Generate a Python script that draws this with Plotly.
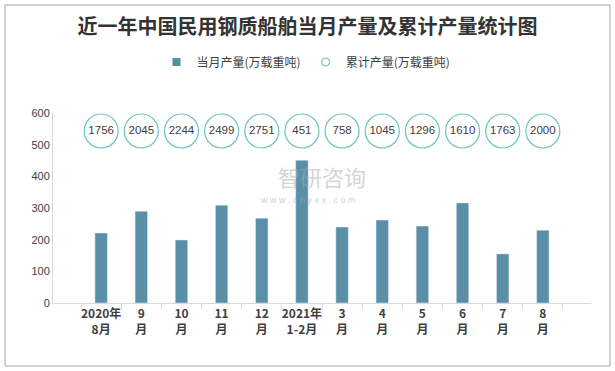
import plotly.graph_objects as go

categories = ["2020年<br>8月", "9<br>月", "10<br>月", "11<br>月", "12<br>月", "2021年<br>1-2月",
              "3<br>月", "4<br>月", "5<br>月", "6<br>月", "7<br>月", "8<br>月"]
monthly = [221, 290, 199, 309, 268, 451, 240, 262, 243, 316, 155, 230]
cumulative = [1756, 2045, 2244, 2499, 2751, 451, 758, 1045, 1296, 1610, 1763, 2000]
y_ticks = [0, 100, 200, 300, 400, 500, 600]

W, H = 615, 371
L, R, T, B = 53, 24, 113, 68
pw, ph = W - L - R, H - T - B

def px_x(p):
    return (p - L) / pw

def px_y(p):
    return (H - B - p) / ph

fig = go.Figure()
fig.add_trace(go.Bar(
    x=categories, y=monthly, name="当月产量(万载重吨)", showlegend=False,
    marker=dict(color="#5B8FA8"), width=0.31, yaxis="y",
))
fig.add_trace(go.Scatter(
    x=categories, y=[1] * len(cumulative), name="累计产量(万载重吨)", showlegend=False,
    mode="markers+text", text=[str(v) for v in cumulative],
    textposition="middle center",
    textfont=dict(size=11.5, color="#404040", family="Liberation Sans, Arial"),
    marker=dict(symbol="circle", size=34, color="white",
                line=dict(color="#6CC6BD", width=1.2)),
    yaxis="y2", cliponaxis=False,
))
# legend entries
fig.add_trace(go.Scatter(x=[None], y=[None], mode="markers", name="当月产量(万载重吨)",
                         marker=dict(symbol="square", size=8, color="#5B8FA8")))
fig.add_trace(go.Scatter(x=[None], y=[None], mode="markers", name="累计产量(万载重吨)",
                         marker=dict(symbol="circle", size=8, color="white",
                                     line=dict(color="#6CC6BD", width=1.2))))

fig.update_layout(
    width=W, height=H,
    margin=dict(l=L, r=R, t=T, b=B, pad=0),
    paper_bgcolor="white", plot_bgcolor="white",
    font=dict(family="Noto Sans CJK SC, Liberation Sans", color="#404040"),
    title=dict(text="<b>近一年中国民用钢质船舶当月产量及累计产量统计图</b>",
               x=0.5, xanchor="center", y=1 - 27 / H, yanchor="middle",
               font=dict(size=20, color="#333333", family="Noto Sans CJK SC")),
    showlegend=True,
    legend=dict(orientation="h", x=px_x(306), xanchor="center", y=px_y(62), yanchor="middle",
                font=dict(size=12, color="#404040"),
                traceorder="normal", itemwidth=30),
    bargap=0.69,
    xaxis=dict(type="category", showline=True, linecolor="#D9D9D9", linewidth=1,
               ticks="outside", tickson="boundaries", ticklen=5, tickcolor="#D9D9D9",
               tickangle=0, automargin=False,
               tickfont=dict(size=12, color="#404040", family="Noto Sans CJK SC"),
               tickvals=categories, ticktext=["<b>" + c + "</b>" for c in categories],
               showgrid=False),
    yaxis=dict(range=[0, 600], tickvals=y_ticks, showline=True, linecolor="#D9D9D9",
               linewidth=1, showgrid=False, zeroline=False, ticks="", automargin=False,
               tickfont=dict(size=11, color="#404040", family="Liberation Sans, Arial")),
    yaxis2=dict(overlaying="y", range=[0, 1 / px_y(131)], visible=False),
)

# watermark
fig.add_annotation(xref="paper", yref="paper", x=px_x(322), y=px_y(176),
                   xanchor="center", yanchor="middle",
                   text="智研咨询", showarrow=False,
                   font=dict(size=22, color="rgba(170,170,170,0.5)", family="Noto Sans CJK SC"))
fig.add_annotation(xref="paper", yref="paper", x=px_x(308), y=px_y(200),
                   xanchor="center", yanchor="middle",
                   text="w w w . c h y x x . c o m", showarrow=False,
                   font=dict(size=9, color="rgba(170,170,170,0.6)", family="Liberation Sans"))

# outer border
fig.add_shape(type="rect", xref="paper", yref="paper",
              x0=px_x(5), x1=px_x(610), y0=px_y(366), y1=px_y(5),
              line=dict(color="#A6A6A6", width=1), fillcolor="rgba(0,0,0,0)", layer="below")

fig.write_html("out.html", config={"displayModeBar": False},
               post_script="document.body.style.margin='0';document.body.style.padding='0';")
